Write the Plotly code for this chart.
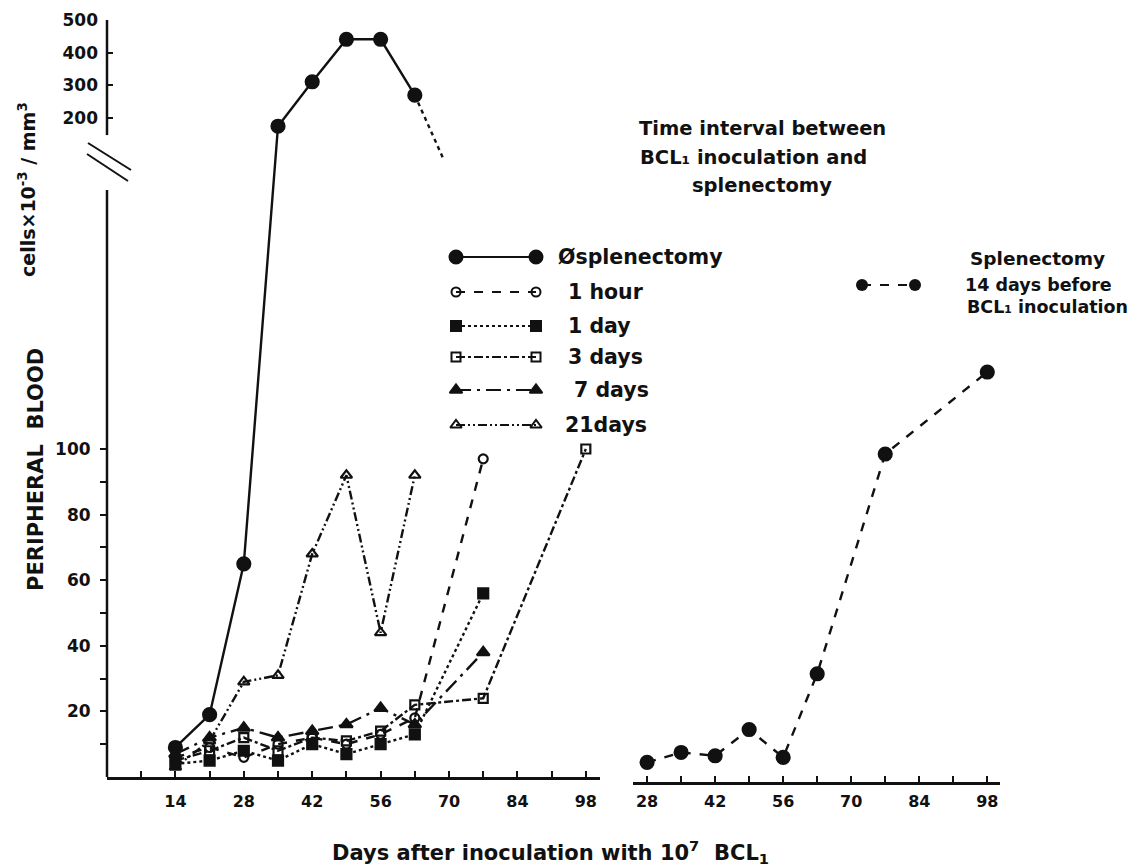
import plotly.graph_objects as go

W, H = 1137, 866

# ---------------- data (days after inoculation, cells x10^-3 / mm3) ----------------
zero_days = [14, 21, 28, 35, 42, 49, 56, 63]
zero_vals = [9, 19, 65, 175, 311, 441, 441, 270]
zero_decline_days = [63, 69]
zero_decline_vals = [270, 70]

hour1_days = [14, 21, 28, 35, 42, 49, 56, 63, 77]
hour1_vals = [6, 9, 6, 10, 12, 10, 13, 18, 97]

day1_days = [14, 21, 28, 35, 42, 49, 56, 63, 77]
day1_vals = [4, 5, 8, 5, 10, 7, 10, 13, 56]

day3_days = [14, 21, 28, 35, 42, 49, 56, 63, 77, 98]
day3_vals = [5, 8, 12, 8, 12, 11, 14, 22, 24, 100]

day7_days = [14, 21, 28, 35, 42, 49, 56, 63, 77]
day7_vals = [7, 12, 15, 12, 14, 16, 21, 16, 38]

day21_days = [14, 21, 28, 35, 42, 49, 56, 63]
day21_vals = [3, 11, 29, 31, 68, 92, 44, 92]

pre14_days = [28, 35, 42, 49, 56, 63, 77, 98]
pre14_vals = [6, 9, 8, 16, 7.5, 33, 100, 125]

lower_ticks = [10, 20, 30, 40, 50, 60, 70, 80, 90, 100]
lower_labels = ["", "20", "", "40", "", "60", "", "80", "", "100"]
upper_ticks = [200, 300, 400, 500]
upper_labels = ["200", "300", "400", "500"]
left_xticks = list(range(7, 99, 7))
right_xticks = list(range(28, 99, 7))

# ---------------- broken y scale ----------------
LOWER_TOP = 179          # top of lower segment (axis units == values)
UPPER_BASE = 200.9       # axis position of value 200 on the upper segment
UPPER_SCALE = 0.0997     # axis units per value unit on upper segment
Y_MAX = 230.8


def brk(v, upper=None):
    if upper is None:
        upper = v >= 150
    return UPPER_BASE + UPPER_SCALE * (v - 200) if upper else v


def P(x, y):
    return x / W, 1 - y / H


FONT = "DejaVu Sans"
BLACK = "#111111"

fig = go.Figure()

def series(days, vals, dash, symbol, size, xa="x", ya="y", lw=2.4, mlw=2.2):
    fig.add_trace(go.Scatter(
        x=days, y=[brk(v) for v in vals], xaxis=xa, yaxis=ya,
        mode="lines+markers",
        line=dict(color=BLACK, width=lw, dash=dash),
        marker=dict(symbol=symbol, size=size, color=BLACK,
                    line=dict(color=BLACK, width=mlw)),
        showlegend=False, hoverinfo="skip", cliponaxis=False))

DASHDOTDOT = "9px,3px,2px,3px,2px,3px"

series(day21_days, day21_vals, DASHDOTDOT, "triangle-up-open", 10)
series(day7_days, day7_vals, "longdashdot", "triangle-up", 11)
series(day3_days, day3_vals, "dashdot", "square-open", 9)
series(day1_days, day1_vals, "dot", "square", 10)
series(hour1_days, hour1_vals, "dash", "circle-open", 9)
series(zero_days, zero_vals, "solid", "circle", 13, ya="y2")

fig.add_trace(go.Scatter(
    x=zero_decline_days, y=[brk(v, True) for v in zero_decline_vals],
    xaxis="x", yaxis="y2",
    mode="lines", line=dict(color=BLACK, width=2.4, dash="4px,4px"),
    showlegend=False, hoverinfo="skip"))

series(pre14_days, pre14_vals, "dash", "circle", 13, xa="x2", ya="y3")

# ---------------- legend drawn as sample traces ----------------
leg_rows = [
    (257, "solid", "circle", 13),
    (292, "dash", "circle-open", 9),
    (326, "dot", "square", 10),
    (357, "dashdot", "square-open", 9),
    (390, "longdashdot", "triangle-up", 11),
    (425, DASHDOTDOT, "triangle-up-open", 10),
]
for yy, dash, sym, sz in leg_rows:
    fig.add_trace(go.Scatter(
        x=[456, 536], y=[yy, yy], xaxis="x3", yaxis="y4", mode="lines+markers",
        line=dict(color=BLACK, width=2.2, dash=dash),
        marker=dict(symbol=sym, size=sz, color=BLACK, line=dict(color=BLACK, width=2)),
        showlegend=False, hoverinfo="skip"))
fig.add_trace(go.Scatter(
    x=[862, 915], y=[285, 285], xaxis="x3", yaxis="y4", mode="lines+markers",
    line=dict(color=BLACK, width=2.2, dash="dash"),
    marker=dict(symbol="circle", size=12, color=BLACK),
    showlegend=False, hoverinfo="skip"))

# ---------------- axes ----------------
tickfont = dict(family=FONT, size=17, color=BLACK, weight="bold")
x_common = dict(showgrid=False, zeroline=False, showline=True, linecolor=BLACK, linewidth=2.5,
                ticks="inside", ticklen=6, tickwidth=2, tickcolor=BLACK,
                tickfont=dict(family=FONT, size=16, color=BLACK, weight="bold"))

left_dom = [107 / W, 600 / W]
right_dom = [633 / W, 1000 / W]

fig.update_layout(
    width=W, height=H,
    margin=dict(l=0, r=0, t=0, b=0, autoexpand=False),
    paper_bgcolor="white", plot_bgcolor="rgba(0,0,0,0)",
    showlegend=False,
    xaxis=dict(domain=left_dom, range=[0, 493 / 4.886], anchor="y",
               tickmode="array", tickvals=left_xticks, ticklabelstandoff=8,
               ticktext=[str(d) if d % 14 == 0 else "" for d in left_xticks], **x_common),
    xaxis2=dict(domain=right_dom, range=[25.1, 25.1 + 367 / 4.86], anchor="y3",
                tickmode="array", tickvals=right_xticks, ticklabelstandoff=3,
                ticktext=[str(d) if d % 14 == 0 else "" for d in right_xticks], **x_common),
    yaxis=dict(domain=[1 - 777 / H, 1 - 20 / H], range=[0, Y_MAX], anchor="x",
               showgrid=False, zeroline=False, showline=False,
               tickmode="array", tickvals=lower_ticks, ticktext=lower_labels,
               ticks="outside", ticklen=6, tickwidth=2, tickcolor=BLACK,
               tickfont=tickfont, ticklabelstandoff=6),
    yaxis2=dict(overlaying="y", anchor="x", side="left", range=[0, Y_MAX],
                showgrid=False, zeroline=False, showline=False,
                tickmode="array", tickvals=[brk(v, True) for v in upper_ticks],
                ticktext=upper_labels, ticks="inside", ticklen=6, tickwidth=2,
                tickcolor=BLACK, tickfont=tickfont, ticklabelstandoff=8),
    yaxis3=dict(domain=[1 - 782 / H, 1 - 25 / H], range=[0, Y_MAX], anchor="x2",
                visible=False),
    xaxis3=dict(domain=[0, 1], range=[0, W], anchor="y4", visible=False),
    yaxis4=dict(domain=[0, 1], range=[H, 0], anchor="x3", visible=False),
)

# y-axis line segments (broken axis) and break marks
AXIS_X = 107 / W
for lo, hi in [(0, LOWER_TOP), (brk(148, True), Y_MAX)]:
    fig.add_shape(type="line", xref="paper", yref="y", x0=AXIS_X, x1=AXIS_X, y0=lo, y1=hi,
                  line=dict(color=BLACK, width=2.5), layer="above")
for (x0, y0, x1, y1) in [(88, 143, 131, 170), (87, 154, 128, 181)]:
    a = P(x0, y0); b = P(x1, y1)
    fig.add_shape(type="line", xref="paper", yref="paper", x0=a[0], y0=a[1], x1=b[0], y1=b[1],
                  line=dict(color=BLACK, width=2))

# ---------------- text ----------------
def text(s, x, y, size=18, xanchor="left", angle=0):
    px, py = P(x, y)
    fig.add_annotation(text=s, x=px, y=py, xref="paper", yref="paper", showarrow=False,
                       xanchor=xanchor, yanchor="middle", textangle=angle,
                       font=dict(family=FONT, size=size, color=BLACK, weight="bold"))

text("Time interval between", 762, 128, 19.5, "center")
text("BCL\u2081 inoculation and", 753, 157, 19.5, "center")
text("splenectomy", 762, 186, 19.5, "center")

text("\u00d8splenectomy", 556, 257, 20.5)
text("1 hour", 566, 292, 20.5)
text("1 day", 566, 326, 20.5)
text("3 days", 566, 357, 20.5)
text("7 days", 572, 390, 20.5)
text("21days", 563, 425, 20.5)

text("Splenectomy", 1037, 258, 18.5, "center")
text("14 days before", 963, 285, 17.5)
text("BCL\u2081 inoculation", 965, 307, 17.5)

text("Days after inoculation with 10<sup>7</sup>  BCL<sub>1</sub>", 550, 852, 21, "center")
text("PERIPHERAL  BLOOD", 36, 470, 21, "center", -90)
text("cells\u00d710<sup>-3</sup> / mm<sup>3</sup>", 27, 190, 19, "center", -90)

fig.write_html("out.html", config={"displayModeBar": False},
               post_script="document.body.style.margin='0';")
